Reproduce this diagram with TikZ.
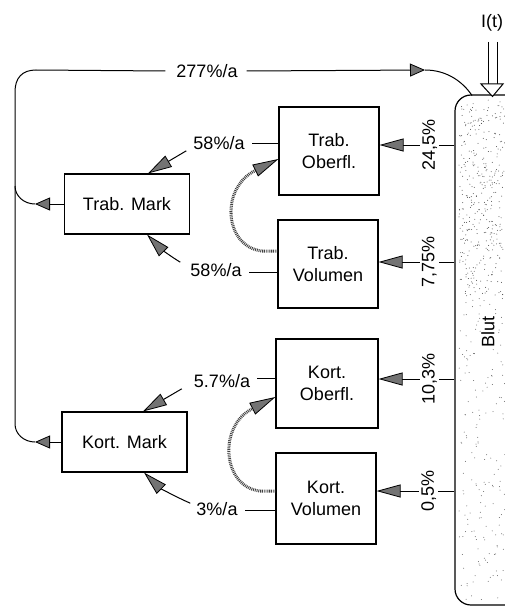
\documentclass[tikz,border=0pt]{standalone}
\usepackage{fontspec}
\setmainfont{Liberation Sans}
\usetikzlibrary{arrows.meta,calc}
\begin{document}
\begin{tikzpicture}[x=1pt,y=-1pt,
  box/.style={draw, line width=1.1pt, align=center, font=\fontsize{18}{22}\selectfont, inner sep=0pt},
  lab/.style={font=\fontsize{18}{22}\selectfont, inner sep=1pt},
  rlab/.style={lab, rotate=90, fill=white, inner sep=2pt},
  ln/.style={line width=1pt},
  head/.style={-{Triangle[length=#1, width=13pt, line width=0.8pt, color=black, fill=black!55]}},
  head/.default=24pt,
  dsh/.style={line width=3pt, black!75, dash pattern=on 0.9pt off 0.9pt},
]
\useasboundingbox (0,0) rectangle (505,607);
\clip (0,0) rectangle (505,607);

% Blood compartment
\node[draw, line width=1.2pt, rounded corners=16pt, minimum width=100pt, minimum height=510pt, inner sep=0pt] (blut) at (505,350) {};
\pgfmathsetseed{7}
\foreach \i in {1,...,300} {\fill[black!60] ({459+46*rnd},{100+500*rnd}) circle (0.5pt);}
\foreach \i in {1,...,260} {\fill[black!70] ({459+46*rnd},{105+190*rnd}) circle (0.5pt);}
\node[lab, rotate=90, fill=white, inner sep=0pt] (blutlab) at (488,332) {Blut};

% input
\node[lab, anchor=base west, inner sep=0pt] (it) at (481,28) {I(t)};
\draw[line width=1pt] (488,42) -- (488,84) (497,42) -- (497,84);
\draw[line width=1pt, fill=white] (481,84) -- (503,84) -- (492.5,96.5) -- cycle;

% boxes
\node[box, minimum width=100pt, minimum height=88pt] (tob) at (329,151) {Trab.\\Oberfl.};
\node[box, minimum width=125pt, minimum height=60pt] (tm) at (127,204) {Trab. Mark};
\node[box, minimum width=100pt, minimum height=88pt] (tv) at (328,264) {Trab.\\Volumen};
\node[box, minimum width=102pt, minimum height=89pt] (kob) at (327,383.5) {Kort.\\Oberfl.};
\node[box, minimum width=125pt, minimum height=60pt] (km) at (124.5,442) {Kort. Mark};
\node[box, minimum width=100pt, minimum height=91pt] (kv) at (326,498.5) {Kort.\\Volumen};

% inflow from blood
\draw[ln, head] (blut.west |- 0,145) -- node[rlab, pos=0.33] {24,5\%} (tob.east |- 0,145);
\draw[ln, head] (blut.west |- 0,262) -- node[rlab, pos=0.33] {7,75\%} (tv.east |- 0,262);
\draw[ln, head] (blut.west |- 0,379) -- node[rlab, pos=0.33] {10,3\%} (kob.east |- 0,379);
\draw[ln, head] (blut.west |- 0,491) -- node[rlab, pos=0.33] {0,5\%} (kv.east |- 0,491);

% outflow to marrow
\node[lab] (l1) at (219,143) {58\%/a};
\draw[ln] (tob.west |- 0,143) -- ($(l1.east)+(6,0)$);
\draw[ln, head] ($(l1.south west)+(-6,0)$) -- ($(tm.north)+(21,0)$);

\node[lab] (l2) at (216,270) {58\%/a};
\draw[ln] (tv.west |- 0,272) -- ($(l2.east)+(6,2)$);
\draw[ln, head] ($(l2.north west)+(-9,0)$) .. controls (170,256) and (160,248) .. ($(tm.south)+(20,0)$);

\node[lab] (l3) at (222,381) {5.7\%/a};
\draw[ln] (kob.west |- 0,378) -- ($(l3.east)+(6,-3)$);
\draw[ln, head] ($(l3.south west)+(-11,0)$) -- ($(km.north)+(18.5,0)$);

\node[lab] (l4) at (217,509) {3\%/a};
\draw[ln] (kv.west |- 0,510) -- ($(l4.east)+(6,1)$);
\draw[ln, head] ($(l4.north west)+(-5,2)$) .. controls (176,497) and (160,488) .. ($(km.south)+(19.5,0)$);

% surface exchange (dashed)
\draw[dsh, head=26pt] (tv.west |- 0,251) -- ++(-16,0) .. controls (224,246) and (220,188) .. (tob.west |- 0,159);
\draw[dsh, head=26pt] (kv.west |- 0,491) -- ++(-16,0) .. controls (222,486) and (218,426) .. (kob.west |- 0,397);

% return loop to blood
\coordinate (ta) at (35,204);
\coordinate (tk) at (35,442);
\coordinate (tb) at (425,70);
\node[lab] (l277) at (207,71) {277\%/a};
\draw[ln, head=15pt] (tm.west) -- (ta);
\draw[ln] (ta) .. controls (24,204) and (15,196) .. (15,186);
\draw[ln, head=15pt] (km.west) -- (tk);
\draw[ln] (tk) .. controls (24,442) and (15,434) .. (15,424) -- (15,92) .. controls (15,78) and (22,70) .. (36,70) -- ($(l277.west)+(-10,0)$);
\draw[ln, head=15pt] ($(l277.east)+(8,0)$) -- (tb);
\draw[ln] (tb) .. controls (447,70) and (463,82) .. (472,95.5);
\end{tikzpicture}
\end{document}
